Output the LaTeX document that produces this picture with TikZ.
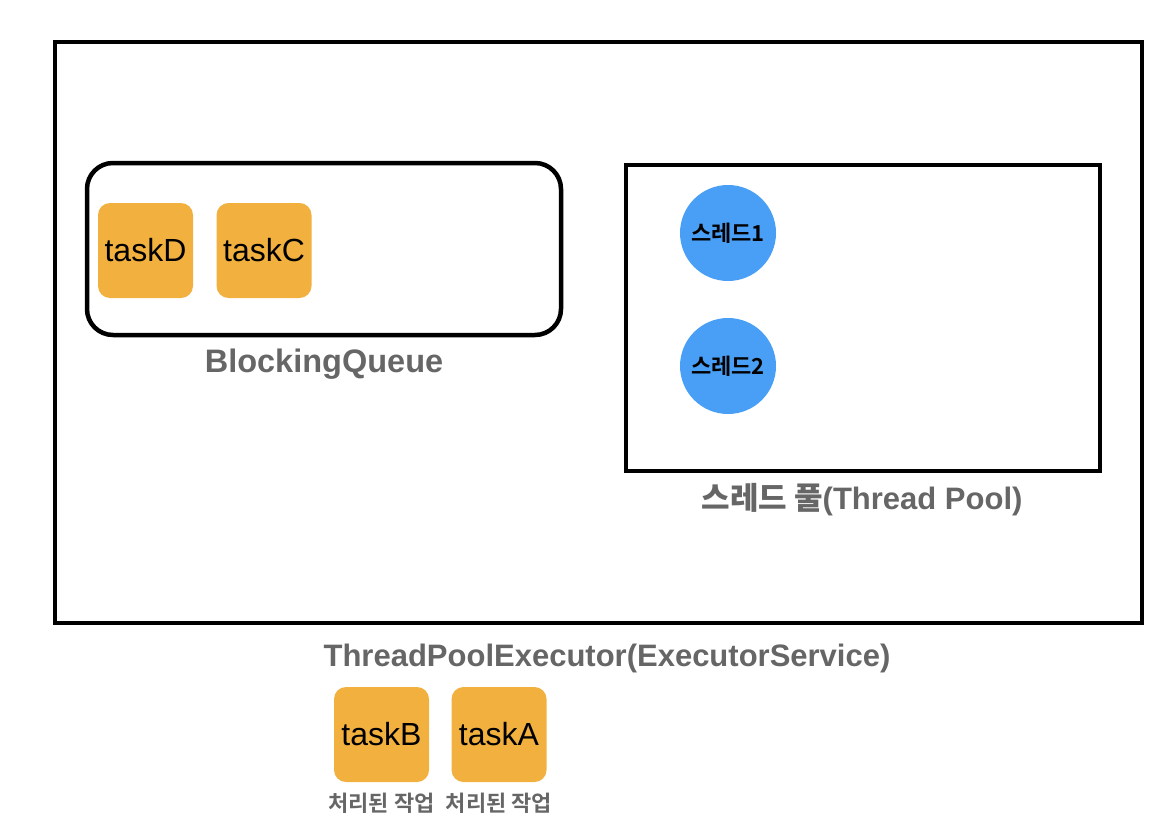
\documentclass[tikz,border=0pt]{standalone}
\usepackage{fontspec}
\setmainfont{Liberation Sans}
\newfontfamily\kr{Noto Sans CJK KR}
\newfontfamily\krb{Noto Sans CJK KR Bold}
\definecolor{taskorange}{HTML}{F2B13E}
\definecolor{threadblue}{HTML}{489FF5}
\definecolor{labelgray}{HTML}{666666}
\tikzset{
    taskbox/.style={fill=taskorange, rounded corners=12pt, minimum width=95pt, minimum height=95pt,
        font=\fontsize{32}{36}\selectfont},
    threadnode/.style={circle, fill=threadblue, minimum size=96pt, inner sep=0pt,
        font=\fontsize{22}{26}\selectfont\krb},
    frame/.style={draw, line width=4pt},
    caption/.style={labelgray, font=\fontsize{31}{36}\selectfont\bfseries},
    donelabel/.style={labelgray, font=\fontsize{22}{26}\selectfont\krb},
}
\begin{document}
\begin{tikzpicture}[x=1pt,y=-1pt]
        \useasboundingbox (0,0) rectangle (1166,832);
        % executor
        \node[frame, minimum width=1087pt, minimum height=581pt] (executor) at (598.5,332.5) {};
        \node[caption] (executorlabel) at (607,658) {ThreadPoolExecutor(ExecutorService)};
        % queue
        \node[frame, line width=4.5pt, rounded corners=26pt, minimum width=474pt, minimum height=172pt] (queue) at (324,249) {};
        \node[caption, font=\fontsize{32.5}{36}\selectfont\bfseries] (queuelabel) at (324,364) {BlockingQueue};
        \node[taskbox] (taskD) at (145.5,250.5) {taskD};
        \node[taskbox] (taskC) at (264,250.5) {taskC};
        % pool
        \node[frame, minimum width=474pt, minimum height=306pt] (pool) at (863,318) {};
        \node[caption] (poollabel) at (862,500) {{\kr 스레드 풀}(Thread Pool)};
        \node[threadnode] (thread1) at (728,233) {스레드1};
        \node[threadnode] (thread2) at (728,366) {스레드2};
        % done tasks
        \node[taskbox] (taskB) at (381.5,734.5) {taskB};
        \node[taskbox] (taskA) at (499,734.5) {taskA};
        \node[donelabel] (doneB) at (381.5,803) {처리된 작업};
        \node[donelabel] (doneA) at (499,803) {처리된 작업};
    \end{tikzpicture}
\end{document}
